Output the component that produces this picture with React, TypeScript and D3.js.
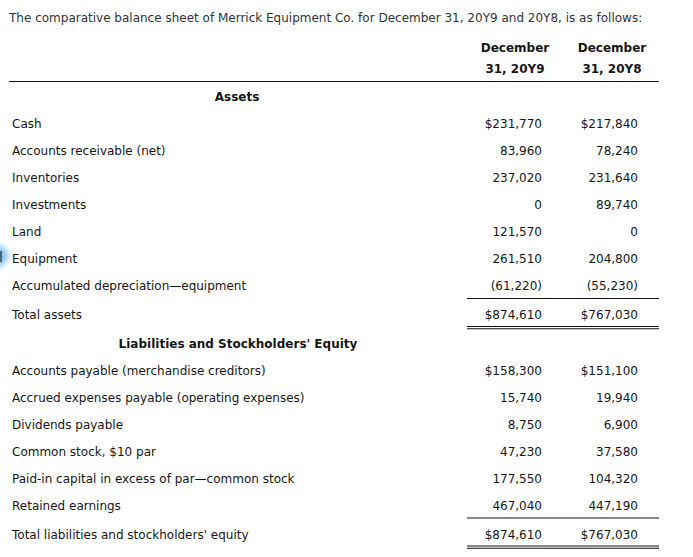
import React from "react";
import * as d3 from "d3";

const title = "The comparative balance sheet of Merrick Equipment Co. for December 31, 20Y9 and 20Y8, is as follows:";
const columnHeads = ["December", "December"];
const columnSubHeads = ["31, 20Y9", "31, 20Y8"];
const assetsHeading = "Assets";
const liabHeading = "Liabilities and Stockholders' Equity";

const assetLabels = [
  "Cash",
  "Accounts receivable (net)",
  "Inventories",
  "Investments",
  "Land",
  "Equipment",
  "Accumulated depreciation\u2014equipment",
  "Total assets",
];
const assets20Y9 = [231770, 83960, 237020, 0, 121570, 261510, -61220, 874610];
const assets20Y8 = [217840, 78240, 231640, 89740, 0, 204800, -55230, 767030];

const liabLabels = [
  "Accounts payable (merchandise creditors)",
  "Accrued expenses payable (operating expenses)",
  "Dividends payable",
  "Common stock, $10 par",
  "Paid-in capital in excess of par\u2014common stock",
  "Retained earnings",
  "Total liabilities and stockholders' equity",
];
const liab20Y9 = [158300, 15740, 8750, 47230, 177550, 467040, 874610];
const liab20Y8 = [151100, 19940, 6900, 37580, 104320, 447190, 767030];

type Row =
  | { kind: "heading"; text: string }
  | { kind: "item"; label: string; v: [number, number]; dollar: boolean; total: boolean };

const rows: Row[] = [];
assetLabels.forEach((l, i) => {
  rows.push({
    kind: "item",
    label: l,
    v: [assets20Y9[i], assets20Y8[i]],
    dollar: i === 0 || i === assetLabels.length - 1,
    total: i === assetLabels.length - 1,
  });
});
rows.push({ kind: "heading", text: liabHeading });
liabLabels.forEach((l, i) => {
  rows.push({
    kind: "item",
    label: l,
    v: [liab20Y9[i], liab20Y8[i]],
    dollar: i === 0 || i === liabLabels.length - 1,
    total: i === liabLabels.length - 1,
  });
});

const W = 693;
const H = 557;
const FONT = "Verdana, 'DejaVu Sans', sans-serif";
const ink = "#161616";

const fmt = d3.format(",");
function formatValue(v: number, dollar: boolean) {
  const s = fmt(Math.abs(v));
  if (v < 0) return `(${s})`;
  return dollar ? `$${s}` : s;
}

export default function App() {
  const yRow = d3.scaleLinear().domain([0, 1]).range([128, 155]);
  const colRight = d3.scaleOrdinal<number, number>().domain([0, 1]).range([542, 638]);
  const colCenter = d3.scaleOrdinal<number, number>().domain([0, 1]).range([515, 612]);

  let extra = 0;
  const baselines: number[] = [];
  rows.forEach((r, i) => {
    if (r.kind === "item" && r.total) extra += 2;
    baselines.push(yRow(i) + extra);
    if (r.kind === "item" && r.total) extra += 1.5;
  });

  const lineX0 = 467;
  const lineX1 = 659;

  return (
    <div style={{ position: "fixed", left: 0, top: 0 }}>
      <svg width={W} height={H} style={{ display: "block", background: "#fff" }}>
        <defs>
          <filter id="blur" x="-50%" y="-50%" width="200%" height="200%">
            <feGaussianBlur stdDeviation="3" />
          </filter>
        </defs>
        <circle cx={-3} cy={256} r={11} fill="#8ec8f6" filter="url(#blur)" />
        <circle cx={-3} cy={256} r={6} fill="#6ab2ee" opacity={0.6} filter="url(#blur)" />
        <line x1={1} x2={1} y1={251} y2={262} stroke="#34495e" strokeWidth={1.5} />

        <text x={9} y={22} fontFamily={FONT} fontSize={12} fill="#333">
          {title}
        </text>

        {columnHeads.map((h, i) => (
          <g key={"h" + i} fontFamily={FONT} fontSize={12} fontWeight="bold" fill={ink} textAnchor="middle">
            <text x={colCenter(i)} y={51.5}>{h}</text>
            <text x={colCenter(i)} y={72.5}>{columnSubHeads[i]}</text>
          </g>
        ))}
        <line x1={9} x2={659} y1={81.5} y2={81.5} stroke="#111" strokeWidth={1.2} />

        <text x={237} y={100.5} fontFamily={FONT} fontSize={12} fontWeight="bold" fill={ink} textAnchor="middle">
          {assetsHeading}
        </text>

        {rows.map((r, i) => {
          const y = baselines[i];
          if (r.kind === "heading") {
            return (
              <text key={i} x={238} y={y} fontFamily={FONT} fontSize={12} fontWeight="bold" fill={ink} textAnchor="middle">
                {r.text}
              </text>
            );
          }
          return (
            <g key={i} fontFamily={FONT} fontSize={12} fill={ink}>
              <text x={12} y={y}>{r.label}</text>
              {r.v.map((v, j) => (
                <text key={j} x={colRight(j)} y={y} textAnchor="end">
                  {formatValue(v, r.dollar)}
                </text>
              ))}
              {r.total && (
                <g stroke="#111">
                  <line x1={lineX0} x2={lineX1} y1={y - 20.5} y2={y - 20.5} strokeWidth={1.2} />
                  <line x1={lineX0} x2={lineX1} y1={y + 7.5} y2={y + 7.5} strokeWidth={1.1} />
                  <line x1={lineX0} x2={lineX1} y1={y + 9.8} y2={y + 9.8} strokeWidth={1.1} />
                </g>
              )}
            </g>
          );
        })}
      </svg>
    </div>
  );
}
